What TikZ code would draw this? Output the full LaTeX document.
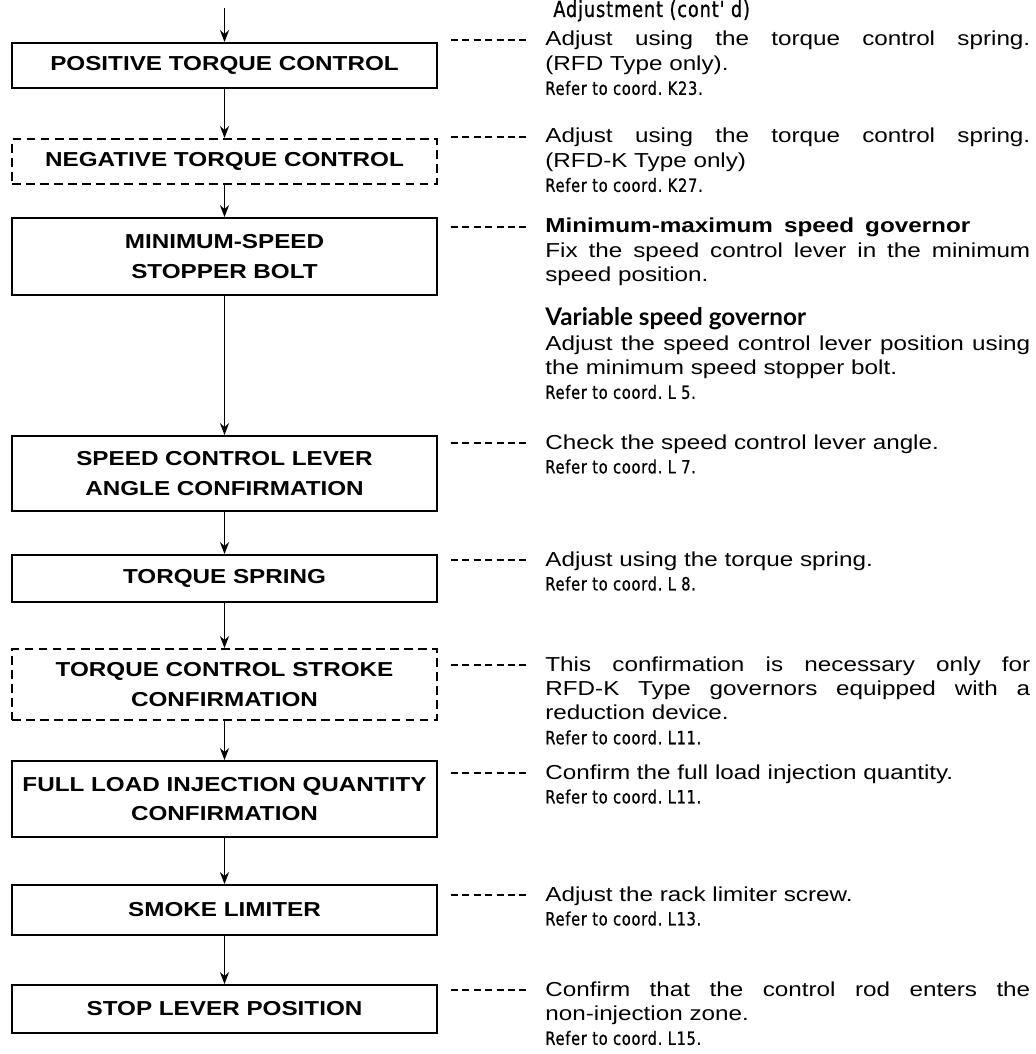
\documentclass[tikz,border=0pt]{standalone}
\usepackage{fontspec}
\setmainfont{Liberation Sans}
\newfontfamily\boxfont{Liberation Sans}[FakeStretch=1.2]
\newfontfamily\notefont{Liberation Sans}[FakeStretch=1.2]
\newfontfamily\reffont{DejaVu Sans}[FakeStretch=0.8,FakeBold=0.8,LetterSpace=4]
\newfontfamily\govfont{Lato}
\usetikzlibrary{arrows.meta,calc}
\newcommand{\jline}[2][9.7cm]{\makebox[#1][s]{\spaceskip=0pt\xspaceskip=0pt\relax #2}}
\newcommand{\refline}[1]{{\reffont\fontsize{10.4}{13.9}\selectfont #1}}
\frenchspacing

\begin{document}
\begin{tikzpicture}[x=0.02cm,y=-0.02cm,>={Stealth[length=2.4mm,width=1.8mm]},
        stepbox/.style={draw,line width=1pt,minimum width=8.5cm,inner sep=0pt,
                        align=center,font=\boxfont\bfseries\fontsize{11.5}{17}\selectfont},
        optbox/.style={stepbox,dash pattern=on 5pt off 3pt},
        note/.style={anchor=base west,inner sep=0pt,text width=9.7cm,align=flush left,
                     font=\notefont\fontsize{11.5}{13.9}\selectfont},
        flow/.style={->,line width=1pt},
        leader/.style={line width=1pt,dash pattern=on 4pt off 2.5pt}]
  \useasboundingbox (0,0) rectangle (1035,1054);

  % adjustment steps
  \node[stepbox,minimum height=0.90cm] (b1) at (224.5,65.5) {POSITIVE TORQUE CONTROL};
  \node[optbox,minimum height=0.90cm]  (b2) at (224.5,161.5) {NEGATIVE TORQUE CONTROL};
  \node[stepbox,minimum height=1.54cm] (b3) at (224.5,256.5) {MINIMUM-SPEED\\STOPPER BOLT};
  \node[stepbox,minimum height=1.50cm] (b4) at (224.5,473.5) {SPEED CONTROL LEVER\\ANGLE CONFIRMATION};
  \node[stepbox,minimum height=0.94cm] (b5) at (224.5,578.5) {TORQUE SPRING};
  \node[optbox,minimum height=1.42cm]  (b6) at (224.5,684.5) {TORQUE CONTROL STROKE\\CONFIRMATION};
  \node[stepbox,minimum height=1.52cm] (b7) at (224.5,799) {FULL LOAD INJECTION QUANTITY\\CONFIRMATION};
  \node[stepbox,minimum height=1.00cm] (b8) at (224.5,910) {SMOKE LIMITER};
  \node[stepbox,minimum height=0.96cm] (b9) at (224.5,1009) {STOP LEVER POSITION};

  \coordinate (start) at (224.5,8);
  \draw[flow] (start) -- (b1);
  \foreach \a/\b in {b1/b2,b2/b3,b3/b4,b4/b5,b5/b6,b6/b7,b7/b8,b8/b9}
    \draw[flow] (\a) -- (\b);

  % notes
  \node[anchor=base west,inner sep=0pt,font=\reffont\fontsize{12.6}{14}\selectfont]
    (head) at (553,17) {Adjustment (cont' d)};
  \node[note] (n1) at (545,46) {\jline{Adjust using the torque control spring.}\\
    (RFD Type only).\\ \refline{Refer to coord. K23.}};
  \node[note] (n2) at (545,143) {\jline{Adjust using the torque control spring.}\\
    (RFD-K Type only)\\ \refline{Refer to coord. K27.}};
  \node[note] (n3) at (545,233) {\jline[8.5cm]{\bfseries Minimum-maximum speed governor}\\
    \jline{Fix the speed control lever in the minimum}\\ speed position.\\[11pt]
    {\govfont\bfseries\fontsize{13.8}{13.9}\selectfont Variable speed governor}\\
    \jline{Adjust the speed control lever position using}\\
    the minimum speed stopper bolt.\\ \refline{Refer to coord. L 5.}};
  \node[note] (n4) at (545,449) {Check the speed control lever angle.\\
    \refline{Refer to coord. L 7.}};
  \node[note] (n5) at (545,566) {Adjust using the torque spring.\\
    \refline{Refer to coord. L 8.}};
  \node[note] (n6) at (545,671) {\jline{This confirmation is necessary only for}\\
    \jline{RFD-K Type governors equipped with a}\\ reduction device.\\
    \refline{Refer to coord. L11.}};
  \node[note] (n7) at (545,779) {Confirm the full load injection quantity.\\
    \refline{Refer to coord. L11.}};
  \node[note] (n8) at (545,901) {Adjust the rack limiter screw.\\
    \refline{Refer to coord. L13.}};
  \node[note] (n9) at (545,996) {\jline{Confirm that the control rod enters the}\\
    non-injection zone.\\ \refline{Refer to coord. L15.}};

  \foreach \i in {1,...,9}{
    \coordinate (t\i) at ([yshift=3.5pt]n\i.base west);
    \draw[leader] ($(b\i.east |- t\i)+(13,0)$) -- ($(t\i)+(-15,0)$);
  }
\end{tikzpicture}
\end{document}
